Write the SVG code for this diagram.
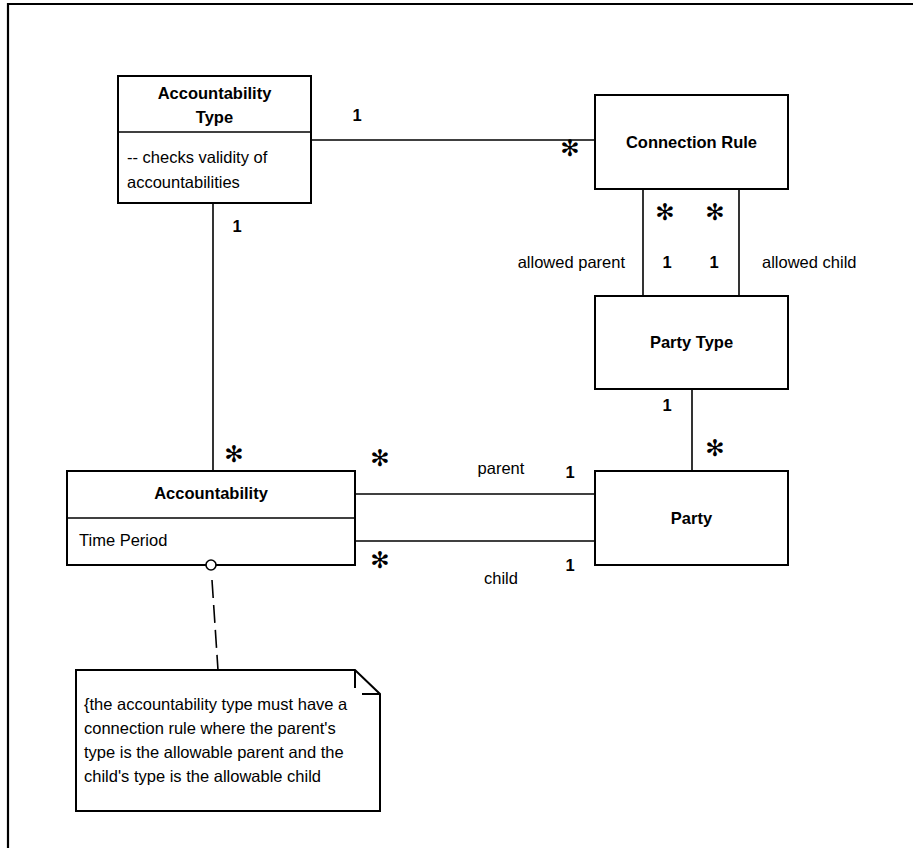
<svg xmlns="http://www.w3.org/2000/svg" width="913" height="848" viewBox="0 0 913 848">
  <style>
    text { font-family: "Liberation Sans", Arial, sans-serif; font-size: 16.5px; fill: #000; }
    .b { font-weight: bold; }
    .m { text-anchor: middle; }
    .e { text-anchor: end; }
    .star { font-family: "DejaVu Sans", sans-serif; font-size: 23px; text-anchor: middle; }
    .box { fill: #fff; stroke: #000; stroke-width: 2; }
    .ln { fill: none; stroke: #000; stroke-width: 1.6; }
  </style>
  <rect x="0" y="0" width="913" height="848" fill="#fff"/>
  <!-- page frame -->
  <path d="M8 848 V4 H913" fill="none" stroke="#000" stroke-width="2.2"/>

  <!-- associations -->
  <g id="connectors">
    <line class="ln" x1="311" y1="140" x2="595" y2="140"/>
    <line class="ln" x1="213" y1="203" x2="213" y2="471"/>
    <line class="ln" x1="643" y1="189" x2="643" y2="296"/>
    <line class="ln" x1="739" y1="189" x2="739" y2="296"/>
    <line class="ln" x1="692" y1="389" x2="692" y2="471"/>
    <line class="ln" x1="355" y1="494" x2="595" y2="494"/>
    <line class="ln" x1="355" y1="541" x2="595" y2="541"/>
    <!-- constraint note anchor -->
    <line class="ln" x1="212" y1="580" x2="218" y2="670" stroke-dasharray="18 7"/>
  </g>

  <g id="accountability-type">
    <rect class="box" x="118" y="76" width="193" height="127"/>
    <line class="ln" x1="118" y1="132" x2="311" y2="132"/>
    <text class="b m" x="214.5" y="99">Accountability</text>
    <text class="b m" x="214.5" y="123">Type</text>
    <text x="127" y="163">-- checks validity of</text>
    <text x="127" y="188">accountabilities</text>
  </g>

  <g id="connection-rule">
    <rect class="box" x="595" y="95" width="193" height="94"/>
    <text class="b m" x="691.5" y="148">Connection Rule</text>
  </g>

  <g id="party-type">
    <rect class="box" x="595" y="296" width="193" height="93"/>
    <text class="b m" x="691.5" y="348">Party Type</text>
  </g>

  <g id="party">
    <rect class="box" x="595" y="471" width="193" height="94"/>
    <text class="b m" x="691.5" y="524">Party</text>
  </g>

  <g id="accountability">
    <rect class="box" x="67" y="471" width="288" height="94"/>
    <line class="ln" x1="67" y1="518" x2="355" y2="518"/>
    <text class="b m" x="211" y="499">Accountability</text>
    <text x="79" y="546">Time Period</text>
    <circle cx="211" cy="565" r="5" fill="#fff" stroke="#000" stroke-width="1.6"/>
  </g>

  <g id="constraint-note">
    <path d="M76 670 H355 L380 694 V811 H76 Z" fill="#fff" stroke="#000" stroke-width="2"/>
    <path d="M355 670 V688 M362 694 H380" fill="none" stroke="#000" stroke-width="2"/>
    <text x="84" y="710">{the accountability type must have a</text>
    <text x="84" y="734">connection rule where the parent's</text>
    <text x="84" y="758">type is the allowable parent and the</text>
    <text x="84" y="782">child's type is the allowable child</text>
  </g>

  <!-- multiplicities and role names -->
  <g id="labels">
    <text class="b m" x="357" y="121">1</text>
    <text class="star" x="570" y="156">✻</text>
    <text class="b m" x="237" y="232">1</text>
    <text class="star" x="234" y="462">✻</text>

    <text class="star" x="665" y="220">✻</text>
    <text class="star" x="715" y="220">✻</text>
    <text class="b m" x="667" y="268">1</text>
    <text class="b m" x="714" y="268">1</text>
    <text class="e" x="625" y="268">allowed parent</text>
    <text x="762" y="268">allowed child</text>

    <text class="b m" x="667" y="411">1</text>
    <text class="star" x="715" y="456">✻</text>

    <text class="star" x="380" y="466">✻</text>
    <text class="m" x="501" y="474">parent</text>
    <text class="b m" x="570" y="478">1</text>
    <text class="star" x="380" y="568">✻</text>
    <text class="m" x="501" y="584">child</text>
    <text class="b m" x="570" y="571">1</text>
  </g>
</svg>
